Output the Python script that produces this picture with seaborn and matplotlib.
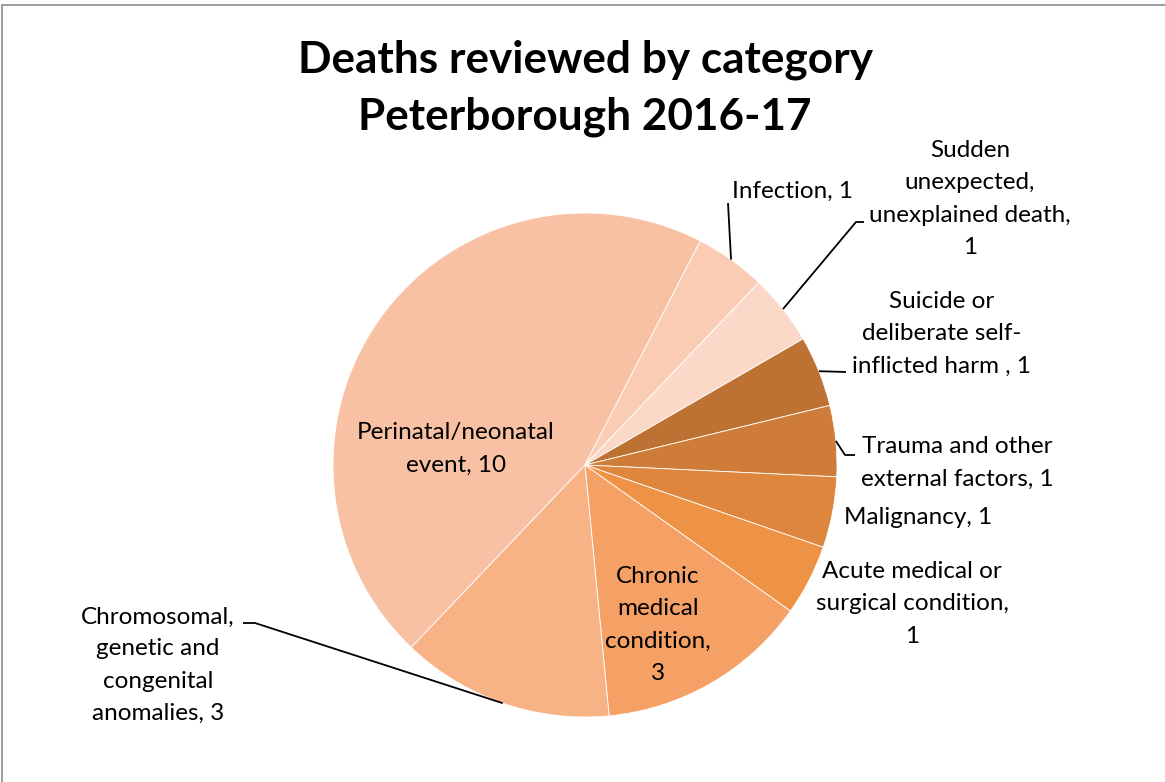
import matplotlib
matplotlib.use("Agg")
import matplotlib.pyplot as plt
import matplotlib.patches as mpatches
import seaborn as sns
import numpy as np

categories = [
    "Perinatal/neonatal event",
    "Infection",
    "Sudden unexpected, unexplained death",
    "Suicide or deliberate self-inflicted harm",
    "Trauma and other external factors",
    "Malignancy",
    "Acute medical or surgical condition",
    "Chronic medical condition",
    "Chromosomal, genetic and congenital anomalies",
]
counts = [10, 1, 1, 1, 1, 1, 1, 3, 3]
label_texts = [
    "Perinatal/neonatal\nevent, 10",
    "Infection, 1",
    "Sudden\nunexpected,\nunexplained death,\n1",
    "Suicide or\ndeliberate self-\ninflicted harm , 1",
    "Trauma and other\nexternal factors, 1",
    "Malignancy, 1",
    "Acute medical or\nsurgical condition,\n1",
    "Chronic\nmedical\ncondition,\n3",
    "Chromosomal,\ngenetic and\ncongenital\nanomalies, 3",
]
colors = ["#F8C1A3", "#F9CCB3", "#FAD9C8", "#BD7234", "#CF7C38",
          "#DF863E", "#EE9245", "#F5A064", "#F7B286"]

sns.set_theme(style="white")
plt.rcParams['font.family'] = ['Lato', 'DejaVu Sans']

W, H = 1165, 782
fig = plt.figure(figsize=(W / 100, H / 100), dpi=100)
cx, cy, R = 585, 465, 252
ax = fig.add_axes([(cx - R) / W, (H - cy - R) / H, 2 * R / W, 2 * R / H])
ax.set_xlim(-1, 1)
ax.set_ylim(-1, 1)
ax.axis("off")

start = 226.4
wedges, _ = ax.pie(counts, colors=colors, startangle=start, counterclock=False,
                   radius=1, center=(0, 0),
                   wedgeprops=dict(edgecolor="white", linewidth=0.6))
ax.set_xlim(-1, 1)
ax.set_ylim(-1, 1)


def d(px, py):
    return ((px - cx) / R, (cy - py) / R)


fs = 17.5
label_pos = [
    (456, 449), (793, 191), (970, 199), (942, 334), (957, 463),
    (918, 517), (912, 604), (658, 625), (158, 665),
]
leaders = {
    1: [(728, 203)],
    2: [(856, 222), (864, 222)],
    3: [(846, 372)],
    4: [(845, 455), (855, 455)],
    8: [(255, 623), (243, 623)],
}

for i, (w, txt) in enumerate(zip(wedges, label_texts)):
    x, y = d(*label_pos[i])
    ax.text(x, y, txt, ha="center", va="center", fontsize=fs, color="black",
            linespacing=1.65, clip_on=False)
    if i in leaders:
        theta = np.deg2rad((w.theta1 + w.theta2) / 2)
        pts = [(np.cos(theta), np.sin(theta))] + [d(*p) for p in leaders[i]]
        xs, ys = zip(*pts)
        ax.plot(xs, ys, color="black", lw=1.3, clip_on=False, solid_capstyle="butt")

fig.text(585 / W, 1 - 88 / H, "Deaths reviewed by category\nPeterborough 2016-17",
         ha="center", va="center", fontsize=31.8, fontweight="bold",
         linespacing=1.5, color="black")

fig.patches.append(mpatches.Rectangle((2 / W, -0.1), 1.2, 1 - 5 / H + 0.1,
                                      transform=fig.transFigure, fill=False,
                                      edgecolor="#8C8C8C", linewidth=1.2))

fig.savefig("out.png", dpi=100, facecolor="white")
